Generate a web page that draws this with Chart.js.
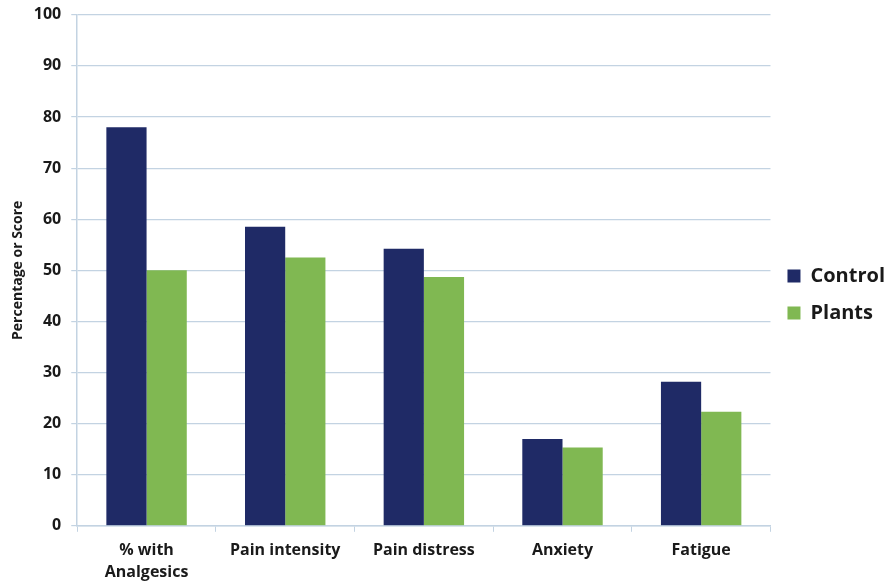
<!DOCTYPE html>
<html>
<head>
<meta charset="utf-8">
<script src="https://cdn.jsdelivr.net/npm/chart.js@4"></script>
<style>
  html, body { margin: 0; padding: 0; background: #fff; }
  #wrap { width: 893px; height: 585px; }
</style>
</head>
<body>
<div id="wrap"><canvas id="myChart" width="893" height="585"></canvas></div>
<script>
var categories = [["% with", "Analgesics"], "Pain intensity", "Pain distress", "Anxiety", "Fatigue"];
var controlValues = [78, 58.5, 54.2, 17, 28.2];
var plantsValues = [50, 52.5, 48.7, 15.3, 22.3];

var gridColor = '#c3d3e2';
var textColor = '#1a1a1a';
var fontFamily = "'Open Sans', 'Liberation Sans', sans-serif";

var ctx = document.getElementById("myChart").getContext("2d");
new Chart(ctx, {
    type: 'bar',
    data: {
        labels: categories,
        datasets: [{
            label: 'Control',
            backgroundColor: '#1f2a66',
            data: controlValues
        }, {
            label: 'Plants',
            backgroundColor: '#80b852',
            data: plantsValues
        }]
    },
    options: {
        responsive: false,
        animation: false,
        datasets: {
            bar: { categoryPercentage: 0.58, barPercentage: 1.0 }
        },
        layout: { padding: { top: -2, right: -2, bottom: -6, left: 8 } },
        plugins: {
            legend: {
                position: 'right',
                labels: {
                    boxWidth: 13,
                    boxHeight: 13,
                    padding: 17,
                    color: textColor,
                    font: { family: fontFamily, size: 20, weight: 'bold' }
                }
            },
            tooltip: { enabled: false }
        },
        scales: {
            x: {
                grid: { drawOnChartArea: false, drawTicks: true, tickLength: 6, color: gridColor },
                border: { color: gridColor, width: 1.5 },
                ticks: {
                    color: textColor,
                    padding: 8,
                    maxRotation: 0,
                    font: { family: fontFamily, size: 16, weight: 'bold', lineHeight: 1.35 }
                }
            },
            y: {
                min: 0,
                max: 100,
                grid: { color: gridColor, lineWidth: 1.2, tickLength: 6 },
                border: { color: gridColor, width: 1.5 },
                ticks: {
                    stepSize: 10,
                    color: textColor,
                    padding: 10,
                    font: { family: fontFamily, size: 16, weight: 'bold', lineHeight: 0.6 }
                },
                title: {
                    display: true,
                    text: 'Percentage or Score',
                    color: textColor,
                    padding: { top: 2, bottom: -3 },
                    font: { family: fontFamily, size: 14, weight: 'bold' }
                }
            }
        }
    }
});
</script>
</body>
</html>
